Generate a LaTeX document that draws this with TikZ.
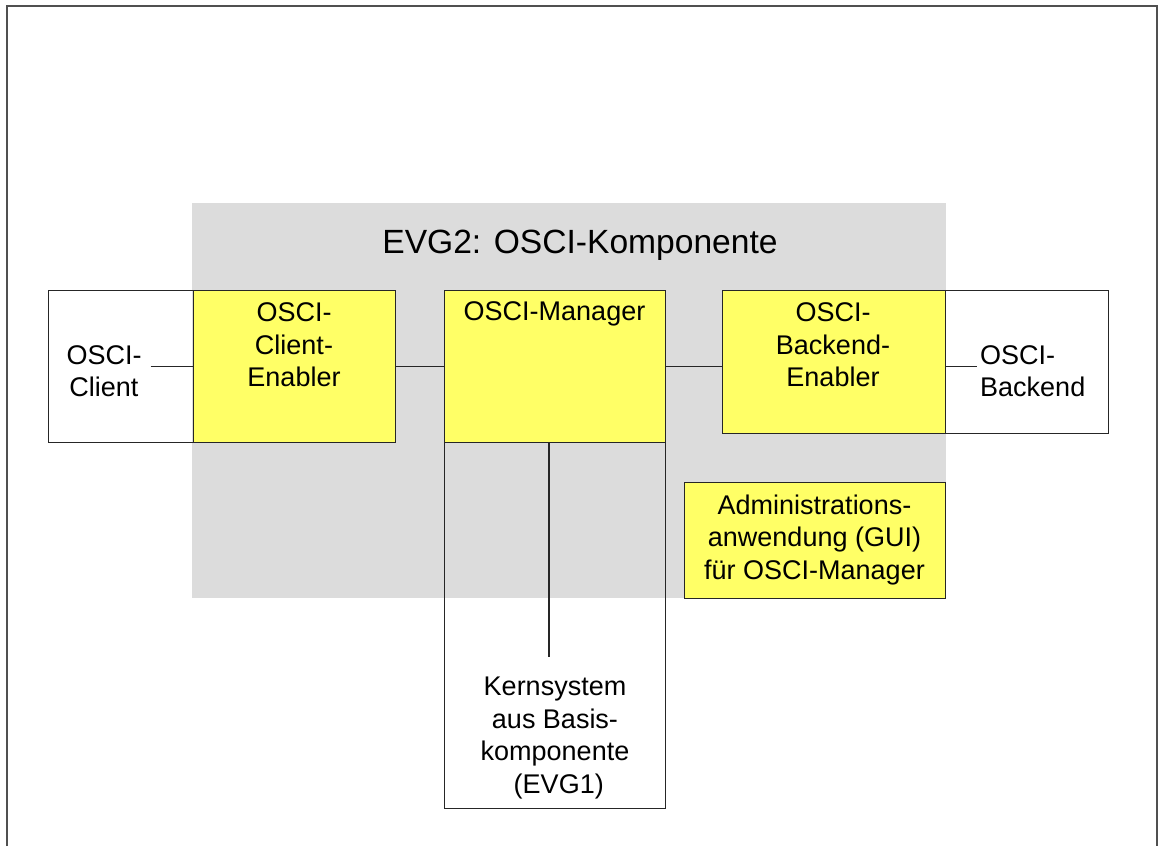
\documentclass[tikz,border=0pt]{standalone}
\usepackage{fontspec}
\setmainfont{Liberation Sans}
\definecolor{compgray}{HTML}{DCDCDC}
\definecolor{boxyellow}{HTML}{FFFF66}
\definecolor{framegray}{HTML}{505050}
\definecolor{linegray}{HTML}{262626}
\tikzset{
  plainbox/.style={draw=linegray, line width=1.3pt, inner sep=0pt, anchor=north west},
  yellowbox/.style={plainbox, fill=boxyellow},
  boxtext/.style={font=\fontsize{27}{32.5}\selectfont, inner sep=0pt, align=center},
  wire/.style={draw=black!85, line width=1.1pt},
}
\begin{document}
\begin{tikzpicture}[x=1pt,y=-1pt]
  \useasboundingbox (0,0) rectangle (1159,846);

  % outer frame, open at the bottom
  \draw[framegray, line width=2pt] (7,846) -- (7,6) -- (1157,6) -- (1157,846);

  % the EVG2 component area
  \node[fill=compgray, inner sep=0pt, anchor=north west,
        minimum width=754pt, minimum height=395pt] (comp) at (192,203) {};
  \node[font=\fontsize{33.6}{38}\selectfont, inner sep=0pt] (title) at (580,245) {EVG2: OSCI-Komponente};

  % outer systems
  \node[plainbox, minimum width=145pt, minimum height=152pt] (client) at (48,290) {};
  \node[plainbox, minimum width=163pt, minimum height=143pt] (backend) at (945,290) {};
  \node[plainbox, minimum width=221pt, minimum height=366pt] (kern) at (444,442) {};

  % OSCI components
  \node[yellowbox, minimum width=202pt, minimum height=152pt] (cenabler) at (193,290) {};
  \node[yellowbox, minimum width=221pt, minimum height=152pt] (manager) at (444,290) {};
  \node[yellowbox, minimum width=223pt, minimum height=143pt] (benabler) at (722,290) {};
  \node[yellowbox, minimum width=261pt, minimum height=116pt] (admin) at (684,482) {};

  % labels
  \node[boxtext] (clienttext) at (104,371) {OSCI-\\Client};
  \node[boxtext] (cenablertext) at (294,345) {OSCI-\\Client-\\Enabler};
  \node[boxtext] (managertext) at (554.5,314) {OSCI-Manager};
  \node[boxtext] (benablertext) at (833,345) {OSCI-\\Backend-\\Enabler};
  \node[boxtext, align=left, anchor=west] (backendtext) at (980,371) {OSCI-\\Backend};
  \node[boxtext] (admintext) at (814.5,540) {Administrations-\\anwendung (GUI)\\für OSCI-Manager};
  \node[boxtext] (kerntext) at (555,738) {Kernsystem\\aus Basis-\\komponente\\\ (EVG1)};

  % connections
  \draw[wire] ([xshift=9pt]clienttext.east |- cenabler.west) -- (cenabler.west);
  \draw[wire] (cenabler.east) -- (manager.west);
  \draw[wire] (manager.east) -- (benabler.west |- manager.east);
  \draw[wire] (benabler.east |- manager.east) -- ([xshift=-3pt]backendtext.west |- manager.east);
  \coordinate (kernend) at (549,657);
  \draw[wire] (kernend |- manager.south) -- (kernend);
\end{tikzpicture}
\end{document}
